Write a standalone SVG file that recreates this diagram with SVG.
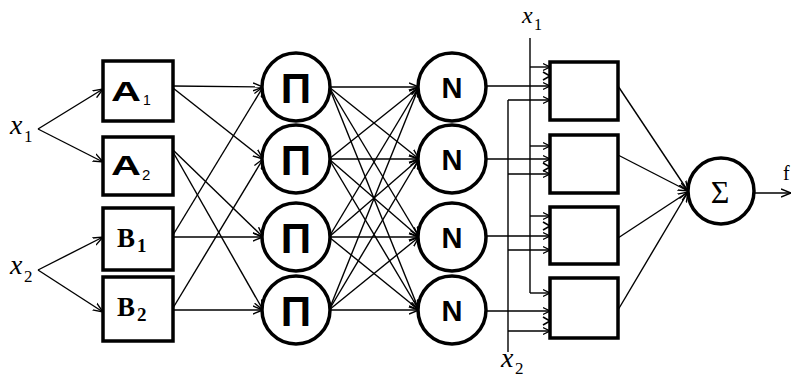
<svg xmlns="http://www.w3.org/2000/svg" width="792" height="381" viewBox="0 0 792 381">
<style>
.box{fill:#fff;stroke:#000;stroke-width:3.5}
.nd{fill:#fff;stroke:#000;stroke-width:3.5}
.ln{fill:none;stroke:#000;stroke-width:1.4}
.la{fill:none;stroke:#000;stroke-width:1.4;marker-end:url(#arr)}
.sa{fill:none;stroke:#000;stroke-width:1.4;marker-end:url(#sarr)}
.chev{fill:none;stroke:#000;stroke-width:1.6}
.sans{font-family:"Liberation Sans",Arial,sans-serif;fill:#000}
.serif{font-family:"Liberation Serif","Times New Roman",serif;fill:#000}
.var{font-family:"Liberation Serif","Times New Roman",serif;font-style:italic;fill:#000;font-size:28px}
.sub{font-family:"Liberation Serif","Times New Roman",serif;fill:#000;font-size:17px}
</style>
<defs>
<marker id="arr" viewBox="0 0 10 10" refX="10" refY="5" markerWidth="10" markerHeight="10" markerUnits="userSpaceOnUse" orient="auto">
<path d="M0,1 L10,5 L0,9" fill="none" stroke="#000" stroke-width="1.4"/>
</marker>
<marker id="sarr" viewBox="0 0 10 10" refX="10" refY="5" markerWidth="7" markerHeight="8" markerUnits="userSpaceOnUse" orient="auto">
<path d="M0,0 L10,5 L0,10" fill="none" stroke="#000" stroke-width="1.6"/>
</marker>
</defs>

<g id="connectors">
<path class="la" d="M38,129 L103,89"/>
<path class="la" d="M38,129 L103,162"/>
<path class="la" d="M38,270 L103,237"/>
<path class="la" d="M38,270 L103,312"/>
<path class="la" d="M173,86 L263,87"/>
<path class="la" d="M173,88 L263,159"/>
<path class="la" d="M173,150 L263,237"/>
<path class="la" d="M173,152 L263,310"/>
<path class="la" d="M173,237 L263,237"/>
<path class="la" d="M173,235 L263,87"/>
<path class="la" d="M173,310 L263,310"/>
<path class="la" d="M173,308 L263,159"/>
<path class="la" d="M329,87 L419,87"/>
<path class="la" d="M329,87 L419,159"/>
<path class="la" d="M329,87 L419,237"/>
<path class="la" d="M329,87 L419,310"/>
<path class="la" d="M329,159 L419,87"/>
<path class="la" d="M329,159 L419,159"/>
<path class="la" d="M329,159 L419,237"/>
<path class="la" d="M329,159 L419,310"/>
<path class="la" d="M329,237 L419,87"/>
<path class="la" d="M329,237 L419,159"/>
<path class="la" d="M329,237 L419,237"/>
<path class="la" d="M329,237 L419,310"/>
<path class="la" d="M329,310 L419,87"/>
<path class="la" d="M329,310 L419,159"/>
<path class="la" d="M329,310 L419,237"/>
<path class="la" d="M329,310 L419,310"/>
<path class="ln" d="M530,38 L530,293"/>
<path class="ln" d="M508,100 L508,352"/>
<path class="sa" d="M530,67 L550,67"/>
<path class="sa" d="M485,86 L550,86"/>
<path class="sa" d="M508,100 L550,100"/>
<path class="chev" d="M543,72 L550,76 L543,80"/>
<path class="sa" d="M530,146 L550,146"/>
<path class="sa" d="M485,159 L550,159"/>
<path class="sa" d="M508,174 L550,174"/>
<path class="chev" d="M543,163 L550,167 L543,171"/>
<path class="sa" d="M530,216 L550,216"/>
<path class="sa" d="M485,236 L550,236"/>
<path class="sa" d="M508,250 L550,250"/>
<path class="chev" d="M543,222 L550,226 L543,230"/>
<path class="sa" d="M530,293 L550,293"/>
<path class="sa" d="M485,311 L550,311"/>
<path class="sa" d="M508,331 L550,331"/>
<path class="chev" d="M543,317 L550,321 L543,325"/>
<path class="la" d="M618,86 L688,191"/>
<path class="la" d="M618,155 L688,191"/>
<path class="la" d="M618,238 L688,192"/>
<path class="la" d="M618,310 L688,192"/>
<path class="la" d="M754,193 L791,193"/>
</g>

<g id="in-x1"><text class="var" x="10" y="134">x</text><text class="sub" x="24" y="142">1</text></g>
<g id="in-x2"><text class="var" x="10" y="274">x</text><text class="sub" x="24" y="282">2</text></g>
<g id="top-x1"><text class="var" x="522" y="23" style="font-size:24px">x</text><text class="sub" x="534" y="30" style="font-size:16px">1</text></g>
<g id="bot-x2"><text class="var" x="501" y="367">x</text><text class="sub" x="515" y="374">2</text></g>

<g id="A1"><rect class="box" x="103" y="61" width="70" height="60"/><text class="sans" x="111" y="101" font-size="28" font-weight="bold" textLength="30" lengthAdjust="spacingAndGlyphs">A</text><text class="sans" x="143" y="105" font-size="14">1</text></g>
<g id="A2"><rect class="box" x="103" y="137" width="70" height="58"/><text class="sans" x="111" y="175" font-size="28" font-weight="bold" textLength="30" lengthAdjust="spacingAndGlyphs">A</text><text class="sans" x="142" y="180" font-size="15">2</text></g>
<g id="B1"><rect class="box" x="103" y="208" width="70" height="62"/><text class="serif" x="117" y="247" font-size="27" font-weight="bold">B</text><text class="serif" x="137" y="252" font-size="19" font-weight="bold">1</text></g>
<g id="B2"><rect class="box" x="103" y="277" width="70" height="64"/><text class="serif" x="117" y="316" font-size="27" font-weight="bold">B</text><text class="serif" x="137" y="321" font-size="19" font-weight="bold">2</text></g>

<g id="P1"><circle class="nd" cx="296" cy="87" r="34"/><text class="sans" x="296" y="103" font-size="42" font-weight="bold" text-anchor="middle">Π</text></g>
<g id="P2"><circle class="nd" cx="296" cy="159" r="34"/><text class="sans" x="296" y="175" font-size="42" font-weight="bold" text-anchor="middle">Π</text></g>
<g id="P3"><circle class="nd" cx="296" cy="237" r="34"/><text class="sans" x="296" y="253" font-size="42" font-weight="bold" text-anchor="middle">Π</text></g>
<g id="P4"><circle class="nd" cx="296" cy="310" r="34"/><text class="sans" x="296" y="326" font-size="42" font-weight="bold" text-anchor="middle">Π</text></g>

<g id="N1"><circle class="nd" cx="452" cy="87" r="34"/><text class="sans" x="452" y="98" font-size="29" font-weight="bold" text-anchor="middle">N</text></g>
<g id="N2"><circle class="nd" cx="452" cy="159" r="34"/><text class="sans" x="452" y="170" font-size="29" font-weight="bold" text-anchor="middle">N</text></g>
<g id="N3"><circle class="nd" cx="452" cy="237" r="34"/><text class="sans" x="452" y="248" font-size="29" font-weight="bold" text-anchor="middle">N</text></g>
<g id="N4"><circle class="nd" cx="452" cy="310" r="34"/><text class="sans" x="452" y="321" font-size="29" font-weight="bold" text-anchor="middle">N</text></g>

<g id="R1"><rect class="box" x="550" y="62" width="68" height="58"/></g>
<g id="R2"><rect class="box" x="550" y="135" width="68" height="58"/></g>
<g id="R3"><rect class="box" x="550" y="207" width="68" height="57"/></g>
<g id="R4"><rect class="box" x="550" y="278" width="68" height="60"/></g>

<g id="sum"><circle class="nd" cx="721" cy="191" r="33"/><text class="serif" x="720" y="203" font-size="32" text-anchor="middle">Σ</text></g>
<g id="out"><text class="serif" x="783" y="180" font-size="20">f</text></g>
</svg>
